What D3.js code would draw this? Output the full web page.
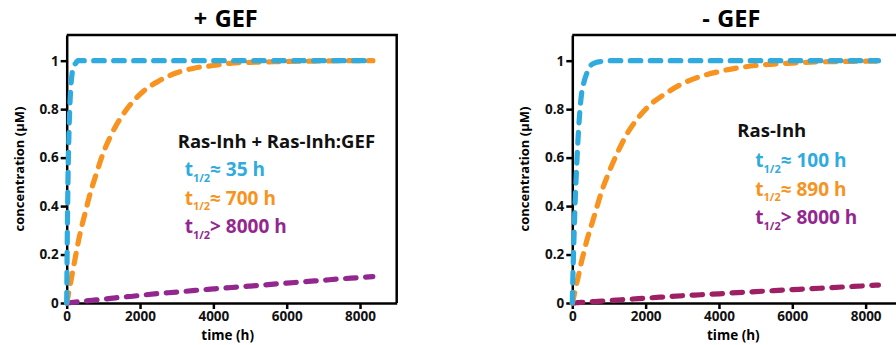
<!DOCTYPE html>
<html>
  <head>
    <title>Ras-Inh exchange</title>
    <script src="https://cdn.jsdelivr.net/npm/d3@7/dist/d3.min.js" charset="utf-8"></script>
<style>
body { margin: 0; background: #fff; }
svg { font-family: "Open Sans", sans-serif; font-weight: 700; }
.axis path, .axis line { stroke: #000; stroke-width: 2.5; }
.axis text { font-size: 13.5px; font-weight: 700; fill: #111; font-family: "Open Sans", sans-serif; }
.curve { fill: none; stroke-width: 5.2; stroke-dasharray: 10.5 9.5; stroke-linecap: round; }
.title { word-spacing: 1.5px; }
</style>
  </head>
  <body>
    <svg></svg>
    <script>
      // time points (h)
      var times = [0, 20, 40, 60, 80, 100, 150, 200, 250, 300, 400, 500, 600, 800, 1000, 1200, 1500, 1800, 2100, 2500, 3000, 3500, 4000, 4500, 5000, 5500, 6000, 6500, 7000, 7500, 8000, 8350];

      // + GEF
      var gefBlue   = [0, 0.33, 0.55, 0.69, 0.79, 0.86, 0.95, 0.98, 0.99, 1, 1, 1, 1, 1, 1, 1, 1, 1, 1, 1, 1, 1, 1, 1, 1, 1, 1, 1, 1, 1, 1, 1];
      var gefOrange = [0, 0.015, 0.03, 0.05, 0.07, 0.08, 0.12, 0.16, 0.2, 0.24, 0.31, 0.37, 0.43, 0.53, 0.62, 0.69, 0.77, 0.83, 0.875, 0.915, 0.95, 0.97, 0.98, 0.99, 0.993, 0.995, 0.997, 0.998, 0.999, 1, 1, 1];
      var gefPurple = [0, 0.0003, 0.0006, 0.001, 0.0013, 0.0016, 0.0024, 0.0032, 0.004, 0.0048, 0.0064, 0.008, 0.0096, 0.0128, 0.016, 0.019, 0.024, 0.028, 0.033, 0.039, 0.045, 0.052, 0.058, 0.064, 0.07, 0.076, 0.082, 0.088, 0.094, 0.1, 0.105, 0.109];

      // - GEF
      var noGefBlue   = [0, 0.13, 0.24, 0.34, 0.43, 0.5, 0.66, 0.78, 0.86, 0.9, 0.95, 0.98, 0.99, 0.997, 1, 1, 1, 1, 1, 1, 1, 1, 1, 1, 1, 1, 1, 1, 1, 1, 1, 1];
      var noGefOrange = [0, 0.012, 0.025, 0.04, 0.055, 0.07, 0.1, 0.135, 0.17, 0.2, 0.26, 0.31, 0.36, 0.46, 0.54, 0.61, 0.7, 0.765, 0.815, 0.86, 0.905, 0.935, 0.955, 0.97, 0.98, 0.986, 0.99, 0.994, 0.996, 0.997, 0.998, 0.998];
      var noGefPurple = [0, 0.0002, 0.0004, 0.0006, 0.0008, 0.001, 0.0015, 0.002, 0.0025, 0.003, 0.004, 0.005, 0.006, 0.008, 0.01, 0.012, 0.015, 0.018, 0.021, 0.025, 0.03, 0.034, 0.038, 0.043, 0.047, 0.051, 0.055, 0.059, 0.063, 0.067, 0.071, 0.074];

      var xTicks = [0, 2000, 4000, 6000, 8000];
      var yTicks = [0, 0.2, 0.4, 0.6, 0.8, 1];

      var titles = ["+ GEF", "- GEF"];
      var headings = ["Ras-Inh + Ras-Inh:GEF", "Ras-Inh"];
      var gefLabels = ["\u2248 35 h", "\u2248 700 h", "> 8000 h"];
      var noGefLabels = ["\u2248 100 h", "\u2248 890 h", "> 8000 h"];

      var blue = "#2fabe0", orange = "#f7931e", purple = "#93278f", crimson = "#9e1f63";

      var width = 896, height = 345;
      var plotW = 330, plotH = 268, plotTop = 35;

      var svg = d3.select("svg").attr("width", width).attr("height", height);

      var x = d3.scaleLinear().domain([0, 9000]).range([0, plotW]);
      var y = d3.scaleLinear().domain([0, 1.106]).range([plotH, 0]);

      var line = d3.line()
          .x(function(d){ return x(d[0]); })
          .y(function(d){ return y(d[1]); })
          .curve(d3.curveMonotoneX);

      function panel(left, title, series, heading, labels, note) {
        var g = svg.append("g").attr("transform", "translate(" + left + "," + plotTop + ")");

        // frame: top and right sides
        g.append("path")
          .attr("d", "M0,0H" + plotW + "V" + plotH)
          .attr("fill", "none").attr("stroke", "#000").attr("stroke-width", 2.5);

        g.append("g").attr("class", "axis")
          .attr("transform", "translate(0," + plotH + ")")
          .call(d3.axisBottom(x).tickValues(xTicks).tickSize(6).tickSizeOuter(0).tickPadding(2).tickFormat(d3.format("d")));

        g.append("g").attr("class", "axis")
          .call(d3.axisLeft(y).tickValues(yTicks).tickSize(6).tickSizeOuter(0).tickPadding(2).tickFormat(d3.format("~g")));

        series.forEach(function(s){
          g.append("path")
            .datum(times.map(function(t, i){ return [t, s.values[i]]; }))
            .attr("class", "curve")
            .attr("stroke", s.color)
            .attr("d", line);
        });

        g.append("text")
          .attr("class", "title")
          .attr("x", plotW / 2 - 6).attr("y", -8)
          .attr("text-anchor", "middle")
          .attr("font-size", 23.5)
          .text(title);

        g.append("text")
          .attr("x", plotW / 2 - 4).attr("y", plotH + 37)
          .attr("text-anchor", "middle")
          .attr("font-size", 13.5)
          .text("time (h)");

        g.append("text")
          .attr("transform", "translate(" + (-43) + "," + (plotH / 2) + ") rotate(-90)")
          .attr("text-anchor", "middle")
          .attr("font-size", 13)
          .text("concentration (\u00b5M)");

        g.append("text")
          .attr("x", note.hx).attr("y", note.hy)
          .attr("font-size", 18.5)
          .attr("fill", "#111")
          .text(heading);

        labels.forEach(function(lab, i){
          var t = g.append("text")
            .attr("x", note.lx).attr("y", note.ly + i * note.step)
            .attr("font-size", 19)
            .attr("fill", note.colors[i]);
          t.append("tspan").text("t");
          t.append("tspan").attr("font-size", 11).attr("dy", 5.5).text("1/2");
          t.append("tspan").attr("dy", -5.5).text(lab);
        });
      }

      panel(66.7, titles[0], [
          {values: gefPurple, color: purple},
          {values: gefOrange, color: orange},
          {values: gefBlue, color: blue}
        ], headings[0], gefLabels,
        {hx: 111, hy: 113, lx: 118, ly: 141, step: 28.5, colors: [blue, orange, purple]});

      panel(572.3, titles[1], [
          {values: noGefPurple, color: crimson},
          {values: noGefOrange, color: orange},
          {values: noGefBlue, color: blue}
        ], headings[1], noGefLabels,
        {hx: 165, hy: 102, lx: 183, ly: 132, step: 28.5, colors: [blue, orange, purple]});
    </script>
  </body>
</html>
